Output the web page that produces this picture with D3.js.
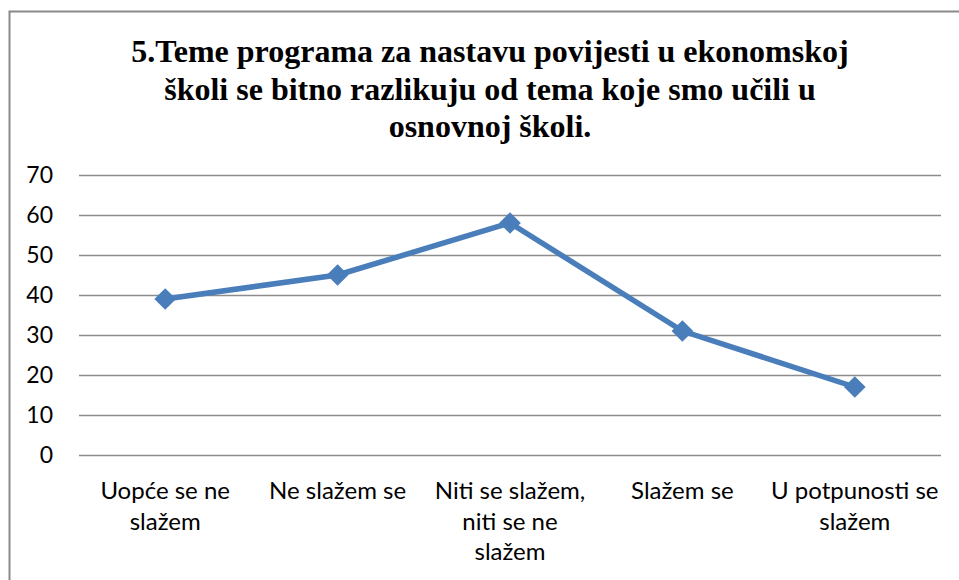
<!DOCTYPE html>
<html>
<head>
<meta charset="utf-8">
<script src="https://cdn.jsdelivr.net/npm/d3@7"></script>
<style>
  body { margin: 0; background: #fff; }
  svg { display: block; }
</style>
</head>
<body>
<svg id="chart"></svg>
<script>
let width = 959;
let height = 580;

let titleLines = [
  '5.Teme programa za nastavu povijesti u ekonomskoj',
  'školi se bitno razlikuju od tema koje smo učili u',
  'osnovnoj školi.'
];
let categories = [
  ['Uopće se ne', 'slažem'],
  ['Ne slažem se'],
  ['Niti se slažem,', 'niti se ne', 'slažem'],
  ['Slažem se'],
  ['U potpunosti se', 'slažem']
];
let values = [39, 45, 58, 31, 17];
let yTicks = [0, 10, 20, 30, 40, 50, 60, 70];

let plotLeft = 79;
let plotRight = 941;
let plotTop = 175;
let plotBottom = 455;

let svg = d3.select('#chart')
  .attr('width', width)
  .attr('height', height);

// chart frame (only top and left edge are in view)
svg.append('path')
  .attr('d', 'M9.5,' + height + 'V11.5H' + width)
  .attr('fill', 'none')
  .attr('stroke', '#898989')
  .attr('stroke-width', 2);

let title = svg.append('text')
  .attr('text-anchor', 'middle')
  .attr('font-family', '"Liberation Serif", "Times New Roman", serif')
  .attr('font-weight', 'bold')
  .attr('font-size', 32)
  .attr('fill', '#000');
titleLines.forEach((line, i) => {
  title.append('tspan')
    .attr('x', 490)
    .attr('y', 62 + i * 37.5)
    .text(line);
});

let xScale = d3.scaleBand()
  .domain(d3.range(categories.length))
  .range([plotLeft, plotRight]);

let yScale = d3.scaleLinear()
  .domain([0, 70])
  .range([plotBottom, plotTop]);

// gridlines
svg.append('g')
  .selectAll('line')
  .data(yTicks)
  .enter()
  .append('line')
  .attr('x1', plotLeft)
  .attr('x2', plotRight)
  .attr('y1', d => Math.round(yScale(d)) + 0.5)
  .attr('y2', d => Math.round(yScale(d)) + 0.5)
  .attr('stroke', '#8c8c8c')
  .attr('stroke-width', 1.6);

let yAxis = d3.axisLeft(yScale)
  .tickValues(yTicks)
  .tickSize(0)
  .tickPadding(0);
let yG = svg.append('g')
  .attr('transform', 'translate(53,0)')
  .call(yAxis);
yG.select('.domain').remove();
yG.selectAll('text')
  .attr('font-family', 'Lato, "Open Sans", sans-serif')
  .attr('font-size', 23)
  .attr('fill', '#000');

// category labels
let labels = svg.append('g')
  .attr('font-family', 'Lato, "Open Sans", sans-serif')
  .attr('font-size', 24)
  .attr('fill', '#000')
  .attr('text-anchor', 'middle');
categories.forEach((lines, i) => {
  let t = labels.append('text');
  lines.forEach((line, j) => {
    t.append('tspan')
      .attr('x', xScale(i) + xScale.bandwidth() / 2)
      .attr('y', 499 + j * 30.5)
      .text(line);
  });
});

let line = d3.line()
  .x((d, i) => xScale(i) + xScale.bandwidth() / 2)
  .y(d => yScale(d));

svg.append('path')
  .datum(values)
  .attr('d', line)
  .attr('fill', 'none')
  .attr('stroke', '#4a7ebb')
  .attr('stroke-width', 5.5)
  .attr('stroke-linejoin', 'round');

svg.append('g')
  .selectAll('path')
  .data(values)
  .enter()
  .append('path')
  .attr('d', d3.symbol().type(d3.symbolDiamond2).size(300))
  .attr('transform', (d, i) => 'translate(' + (xScale(i) + xScale.bandwidth() / 2) + ',' + yScale(d) + ')')
  .attr('fill', '#4a7ebb');
</script>
</body>
</html>
